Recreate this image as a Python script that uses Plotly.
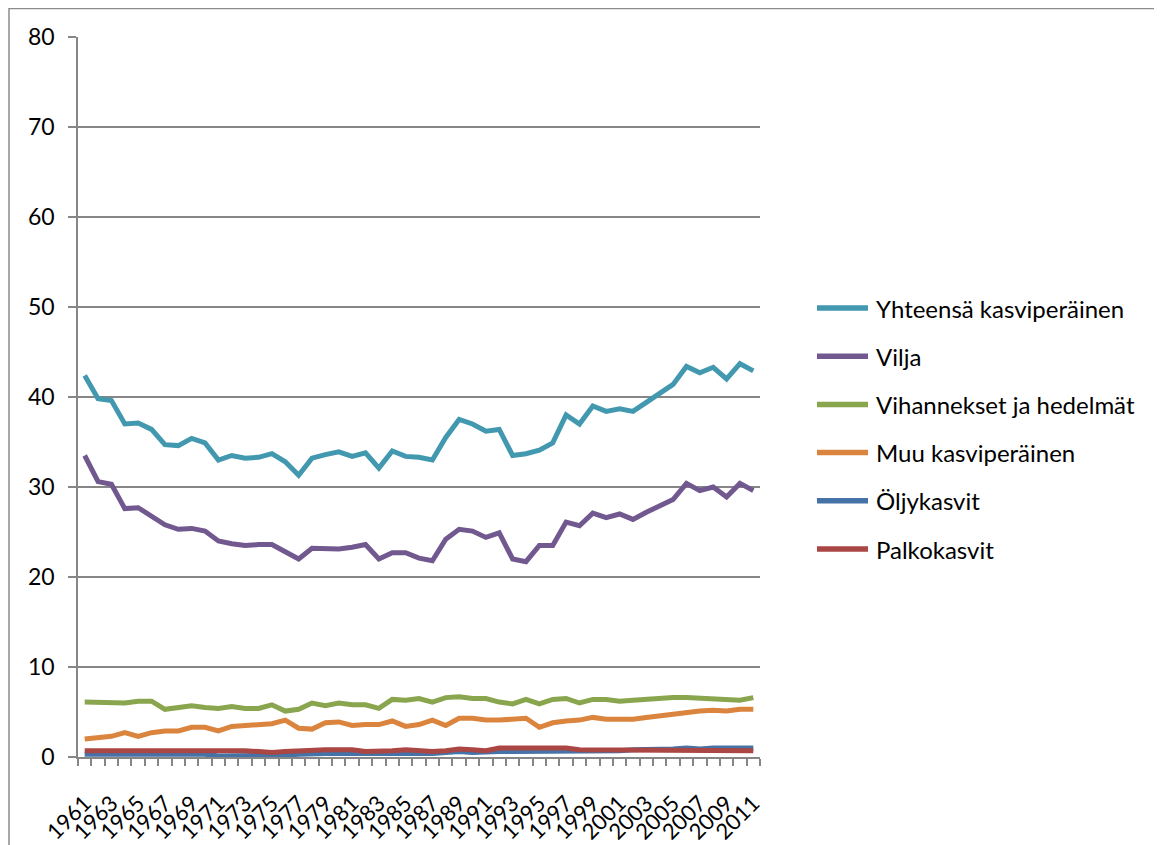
import plotly.graph_objects as go

years = list(range(1961, 2012))

yhteensa = [42.4, 39.8, 39.6, 37.0, 37.1, 36.4, 34.7, 34.6, 35.4, 34.9,
            33.0, 33.5, 33.2, 33.3, 33.7, 32.8, 31.3, 33.2, 33.6, 33.9,
            33.4, 33.8, 32.1, 34.0, 33.4, 33.3, 33.0, 35.5, 37.5, 37.0,
            36.2, 36.4, 33.5, 33.7, 34.1, 34.9, 38.0, 37.0, 39.0, 38.4,
            38.7, 38.4, 39.4, 40.4, 41.4, 43.4, 42.7, 43.3, 42.0, 43.7, 42.9]

vilja = [33.5, 30.6, 30.3, 27.6, 27.7, 26.7, 25.8, 25.3, 25.4, 25.1,
         24.0, 23.7, 23.5, 23.6, 23.6, 22.8, 22.0, 23.2, 23.1, 23.1,
         23.3, 23.6, 22.0, 22.7, 22.7, 22.1, 21.8, 24.2, 25.3, 25.1,
         24.4, 24.9, 22.0, 21.7, 23.5, 23.5, 26.1, 25.7, 27.1, 26.6,
         27.0, 26.4, 27.2, 27.9, 28.6, 30.4, 29.6, 30.0, 28.9, 30.4, 29.6]

vihannekset = [6.1, 6.1, 6.1, 6.0, 6.2, 6.2, 5.3, 5.5, 5.7, 5.5,
               5.4, 5.6, 5.4, 5.4, 5.8, 5.1, 5.3, 6.0, 5.7, 6.0,
               5.8, 5.8, 5.4, 6.4, 6.3, 6.5, 6.1, 6.6, 6.7, 6.5,
               6.5, 6.1, 5.9, 6.4, 5.9, 6.4, 6.5, 6.0, 6.4, 6.4,
               6.2, 6.3, 6.4, 6.6, 6.6, 6.6, 6.5, 6.4, 6.4, 6.3, 6.6]

muu = [2.0, 2.1, 2.3, 2.7, 2.3, 2.7, 2.9, 2.9, 3.3, 3.3,
       2.9, 3.4, 3.5, 3.7, 3.7, 4.1, 3.2, 3.1, 3.8, 3.9,
       3.5, 3.6, 3.6, 4.0, 3.4, 3.6, 4.1, 3.5, 4.3, 4.3,
       4.1, 4.1, 4.2, 4.3, 3.3, 3.8, 4.0, 4.1, 4.4, 4.2,
       4.2, 4.2, 4.4, 4.6, 4.7, 4.9, 5.1, 5.2, 5.1, 5.3, 5.3]

oljykasvit = [0.3, 0.3, 0.3, 0.3, 0.3, 0.4, 0.3, 0.3, 0.3, 0.3,
              0.1, 0.1, 0.1, 0.1, 0.1, 0.2, 0.3, 0.4, 0.4, 0.4,
              0.4, 0.4, 0.3, 0.3, 0.4, 0.3, 0.4, 0.5, 0.6, 0.5,
              0.6, 0.6, 0.6, 0.6, 0.6, 0.6, 0.6, 0.6, 0.6, 0.7,
              0.7, 0.8, 0.8, 0.9, 0.9, 1.0, 0.9, 1.0, 1.0, 1.0, 1.0]

palkokasvit = [0.7, 0.7, 0.7, 0.7, 0.7, 0.8, 0.7, 0.7, 0.7, 0.7,
               0.7, 0.7, 0.7, 0.6, 0.5, 0.6, 0.7, 0.8, 0.8, 0.8,
               0.8, 0.6, 0.6, 0.7, 0.8, 0.7, 0.6, 0.7, 0.9, 0.8,
               0.7, 1.0, 1.0, 1.0, 1.0, 1.0, 1.0, 0.8, 0.8, 0.8,
               0.8, 0.8, 0.8, 0.8, 0.8, 0.8, 0.8, 0.8, 0.8, 0.8, 0.7]

# drawing order (later on top) and legend order
series = [
    ("Öljykasvit", oljykasvit, "#4572A7"),
    ("Palkokasvit", palkokasvit, "#AA4643"),
    ("Vihannekset ja hedelmät", vihannekset, "#89A54E"),
    ("Vilja", vilja, "#71588F"),
    ("Yhteensä kasviperäinen", yhteensa, "#4198AF"),
    ("Muu kasviperäinen", muu, "#DB843D"),
]
legend_order = ["Yhteensä kasviperäinen", "Vilja", "Vihannekset ja hedelmät",
                "Muu kasviperäinen", "Öljykasvit", "Palkokasvit"]

FONT = "Lato"
W, H = 1154, 837
L, T, R, B = 70, 29, 402, 88
PW, PH = W - L - R, H - T - B

fig = go.Figure()
colors = {}
for name, vals, color in series:
    colors[name] = color
    fig.add_trace(go.Scatter(
        x=years, y=vals, name=name, mode="lines",
        line=dict(color=color, width=5), showlegend=False,
    ))

fig.update_layout(
    width=W, height=H,
    margin=dict(l=L, r=R, t=T, b=B, autoexpand=False),
    paper_bgcolor="white", plot_bgcolor="white",
    font=dict(family=FONT, size=24, color="black"),
    showlegend=False,
    xaxis=dict(
        range=[1960.5, 2011.5], automargin=False,
        tickmode="array", tickvals=years[::2],
        ticktext=[str(y) for y in years[::2]],
        tickangle=-45, ticks="", showgrid=False,
        showline=True, linecolor="#868686", linewidth=1.5,
        ticklabelstandoff=23,
        tickfont=dict(family=FONT, size=22),
        minor=dict(tickmode="linear", tick0=1960.5, dtick=1,
                   ticks="outside", ticklen=7, tickcolor="#868686",
                   tickwidth=1.5, showgrid=False),
        zeroline=False,
    ),
    yaxis=dict(
        range=[0, 80], dtick=10, tick0=0, automargin=False,
        showgrid=True, gridcolor="#868686", gridwidth=1.5,
        showline=True, linecolor="#868686", linewidth=1.5,
        ticks="outside", ticklen=8, tickcolor="#868686", tickwidth=1.5,
        ticklabelstandoff=9,
        tickfont=dict(family=FONT, size=23),
        zeroline=False,
    ),
)

# chart-area border (Excel style)
fig.add_shape(type="rect", xref="paper", yref="paper",
              x0=(1 - L) / PW, x1=(W + 20 - L) / PW,
              y0=(PH + T - H - 20) / PH, y1=(PH + T - 0.5) / PH,
              line=dict(color="#8c8c8c", width=1.5), layer="below")

# legend (Excel style: long line keys, evenly spaced)
for i, name in enumerate(legend_order):
    fy = 300 + 48.2 * i  # figure-pixel y of legend item centre
    py = (PH + T - fy) / PH
    fig.add_shape(type="line", xref="paper", yref="paper",
                  x0=(809 - L) / PW, x1=(860 - L) / PW, y0=py, y1=py,
                  line=dict(color=colors[name], width=5.5))
    fig.add_annotation(xref="paper", yref="paper",
                       x=(866 - L) / PW, y=py, text=name, showarrow=False,
                       xanchor="left", yanchor="middle",
                       font=dict(family=FONT, size=24, color="black"))

fig.write_html("out.html")
